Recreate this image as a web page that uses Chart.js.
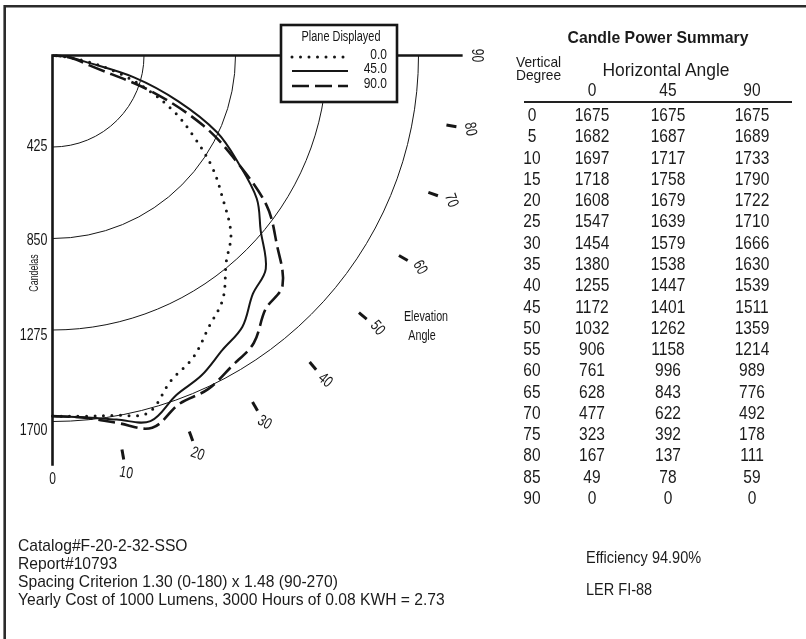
<!DOCTYPE html>
<html>
<head>
<meta charset="utf-8">
<title>Candle Power Summary</title>
<script src="https://cdn.jsdelivr.net/npm/chart.js@4.4.1/dist/chart.umd.min.js"></script>
<style>
  body { margin: 0; background: #fff; }
  #wrap { position: relative; width: 806px; height: 639px; overflow: hidden; }
  #polar { position: absolute; left: 0; top: 0; }
  .t { position: absolute; white-space: nowrap; line-height: 1; color: #1b1b1b;
       font-family: "Liberation Sans", Arial, sans-serif; }
</style>
</head>
<body>
<div id="wrap">
  <canvas id="polar" width="806" height="639"></canvas>
</div>
<script>
// Vertical angles (degrees from nadir) and candela per horizontal plane
const vertAngles = [0, 5, 10, 15, 20, 25, 30, 35, 40, 45, 50, 55, 60, 65, 70, 75, 80, 85, 90];
const plane0  = [1675, 1682, 1697, 1718, 1608, 1547, 1454, 1380, 1255, 1172, 1032, 906, 761, 628, 477, 323, 167, 49, 0];
const plane45 = [1675, 1687, 1717, 1758, 1679, 1639, 1579, 1538, 1447, 1401, 1262, 1158, 996, 843, 622, 392, 137, 78, 0];
const plane90 = [1675, 1689, 1733, 1790, 1722, 1710, 1666, 1630, 1539, 1511, 1359, 1214, 989, 776, 492, 178, 111, 59, 0];
const horizAngles = [0, 45, 90];
const planeNames = ["0.0", "45.0", "90.0"];

// Polar grid
const ringValues = [425, 850, 1275, 1700];
const candelaLabels = ["425", "850", "1275", "1700"];
const elevTicks = [10, 20, 30, 40, 50, 60, 70, 80];
const elevLabels = [0, 10, 20, 30, 40, 50, 60, 70, 80, 90];

// Notes under the chart
const notesLeft = [
  "Catalog#F-20-2-32-SSO",
  "Report#10793",
  "Spacing Criterion 1.30 (0-180) x 1.48 (90-270)",
  "Yearly Cost of 1000 Lumens, 3000 Hours of 0.08 KWH =  2.73"
];
const notesRight = ["Efficiency  94.90%", "LER   FI-88"];

// pixels per candela, polar origin in page pixels
const K = 91.5 / 425;
const OX = 52.5, OY = 55.5;
const W = 806, H = 639;
const AXIS_END = 1905, TICK_IN = 1858, LABEL_R = 1970;

const toXY = (vals) => vals.map((v, i) => {
  const a = vertAngles[i] * Math.PI / 180;
  return { x: v * Math.sin(a), y: v * Math.cos(a) };
});

const lineStyles = [
  { borderDash: [0, 8.5], borderWidth: 3, borderCapStyle: "round" },   // dotted
  { borderDash: [], borderWidth: 2, borderCapStyle: "butt" },          // solid
  { borderDash: [17, 6], borderWidth: 2.6, borderCapStyle: "butt" }    // dashed
];
const INK = "#161616";
const FONT = '"Liberation Sans", Arial, sans-serif';

// condensed text on the canvas (no narrow face installed)
function narrowText(ctx, text, x, y, sx, rot) {
  ctx.save();
  ctx.translate(x, y);
  if (rot) ctx.rotate(rot);
  ctx.scale(sx, 1);
  ctx.fillText(text, 0, 0);
  ctx.restore();
}

const polarGrid = {
  id: "polarGrid",
  beforeDatasetsDraw(chart) {
    const { ctx, scales: { x, y } } = chart;
    const cx = x.getPixelForValue(0), cy = y.getPixelForValue(0);
    const pt = (deg, v) => {
      const a = deg * Math.PI / 180;
      return [x.getPixelForValue(v * Math.sin(a)), y.getPixelForValue(v * Math.cos(a))];
    };
    ctx.save();

    // frame (top and left)
    ctx.strokeStyle = "#2b2b2b";
    ctx.lineWidth = 2.6;
    ctx.beginPath();
    ctx.moveTo(4.7, H);
    ctx.lineTo(4.7, 6.2);
    ctx.lineTo(W, 6.2);
    ctx.stroke();

    // candela rings
    ctx.strokeStyle = INK;
    ctx.lineWidth = 1;
    ringValues.forEach(v => {
      const r = x.getPixelForValue(v) - cx;
      ctx.beginPath();
      ctx.arc(cx, cy, r, 0, Math.PI / 2);
      ctx.stroke();
    });

    // axes
    ctx.lineWidth = 2.6;
    const [ax, ay] = pt(0, AXIS_END);
    const [hx, hy] = pt(90, AXIS_END);
    ctx.beginPath();
    ctx.moveTo(ax, ay);
    ctx.lineTo(cx, cy);
    ctx.lineTo(hx, hy);
    ctx.stroke();

    // elevation ticks
    ctx.lineWidth = 3;
    elevTicks.forEach(a => {
      const [x1, y1] = pt(a, TICK_IN);
      const [x2, y2] = pt(a, AXIS_END);
      ctx.beginPath();
      ctx.moveTo(x1, y1);
      ctx.lineTo(x2, y2);
      ctx.stroke();
    });

    // elevation labels, rotated with the angle
    ctx.fillStyle = INK;
    ctx.font = "16px " + FONT;
    ctx.textAlign = "center";
    ctx.textBaseline = "middle";
    elevLabels.forEach(a => {
      const [lx, ly] = pt(a, LABEL_R);
      narrowText(ctx, String(a), lx, ly, 0.75, a * Math.PI / 180);
    });

    // candela labels on the vertical axis
    ctx.textAlign = "right";
    ringValues.forEach((v, i) => {
      const ly = y.getPixelForValue(v * 1.035) - 4;
      narrowText(ctx, candelaLabels[i], cx - 5, ly, 0.78);
    });

    // axis titles
    ctx.font = "13px " + FONT;
    ctx.textAlign = "center";
    narrowText(ctx, "Candelas", 34.5, 273, 0.68, -Math.PI / 2);

    ctx.font = "14.5px " + FONT;
    narrowText(ctx, "Elevation", 426, 317, 0.74);
    narrowText(ctx, "Angle", 422, 336, 0.74);

    ctx.restore();
  },
  afterDatasetsDraw(chart) {
    const { ctx } = chart;
    ctx.save();
    // legend box
    ctx.fillStyle = "#fff";
    ctx.strokeStyle = INK;
    ctx.lineWidth = 2.6;
    ctx.fillRect(281, 25, 116, 77);
    ctx.strokeRect(281, 25, 116, 77);

    ctx.fillStyle = INK;
    ctx.textBaseline = "middle";
    ctx.font = "14px " + FONT;
    ctx.textAlign = "center";
    narrowText(ctx, "Plane Displayed", 341, 37, 0.78);

    ctx.font = "15px " + FONT;
    ctx.textAlign = "right";
    const rowY = [55, 69, 84];
    planeNames.forEach((name, i) => {
      const s = lineStyles[i];
      ctx.beginPath();
      ctx.setLineDash(s.borderDash);
      ctx.lineWidth = s.borderWidth;
      ctx.lineCap = s.borderCapStyle;
      ctx.moveTo(292, rowY[i] + 2);
      ctx.lineTo(348, rowY[i] + 2);
      ctx.stroke();
      ctx.setLineDash([]);
      narrowText(ctx, name, 387, rowY[i], 0.8);
    });
    ctx.restore();
  }
};

new Chart(document.getElementById("polar"), {
  type: "scatter",
  plugins: [polarGrid],
  data: {
    datasets: [plane0, plane45, plane90].map((vals, i) => ({
      label: planeNames[i],
      data: toXY(vals),
      showLine: true,
      pointRadius: 0,
      tension: 0.35,
      borderColor: INK,
      ...lineStyles[i]
    }))
  },
  options: {
    responsive: false,
    animation: false,
    layout: { padding: 0 },
    plugins: { legend: { display: false }, tooltip: { enabled: false } },
    scales: {
      x: { type: "linear", bounds: "data", min: -OX / K, max: (W - OX) / K, display: false },
      y: { type: "linear", bounds: "data", reverse: true, min: -OY / K, max: (H - OY) / K, display: false }
    }
  }
});

// ---- text: table and notes ----
const wrap = document.getElementById("wrap");
const put = (text, x, y, opts = {}) => {
  const d = document.createElement("div");
  d.className = "t";
  d.textContent = text;
  d.style.left = x + "px";
  d.style.top = y + "px";
  d.style.fontSize = (opts.size || 16) + "px";
  if (opts.bold) d.style.fontWeight = "bold";
  const align = opts.align || "center";
  const tx = align === "left" ? "0" : align === "right" ? "-100%" : "-50%";
  const sx = opts.sx || 1;
  d.style.transformOrigin = (align === "left" ? "0%" : align === "right" ? "100%" : "50%") + " 50%";
  d.style.transform = `translate(${tx}, -50%) scaleX(${sx})`;
  wrap.appendChild(d);
};

const colX = [532, 592, 668, 752];
const ROW0 = 115, ROW_H = 21.28;
const NUM = { size: 18.5, sx: 0.84 };

put("Candle Power Summary", 658, 37, { size: 17, bold: true, sx: 0.93 });
put("Vertical", 516, 62, { size: 14.5, align: "left", sx: 0.95 });
put("Degree", 516, 75, { size: 14.5, align: "left", sx: 0.95 });
put("Horizontal Angle", 666, 70, { size: 18, sx: 0.97 });
horizAngles.forEach((h, j) => put(String(h), colX[j + 1], 90, NUM));

const rule = document.createElement("div");
rule.style.cssText = "position:absolute;left:524px;top:101px;width:268px;height:1.6px;background:#222";
wrap.appendChild(rule);

vertAngles.forEach((deg, i) => {
  const yy = ROW0 + i * ROW_H;
  put(String(deg), colX[0], yy, NUM);
  [plane0, plane45, plane90].forEach((p, j) => put(String(p[i]), colX[j + 1], yy, NUM));
});

notesLeft.forEach((s, i) => put(s, 18, 545 + i * 18, { size: 17, align: "left", sx: 0.92 }));
put(notesRight[0], 586, 557, { size: 16.5, align: "left", sx: 0.88 });
put(notesRight[1], 586, 589, { size: 16.5, align: "left", sx: 0.88 });
</script>
</body>
</html>
